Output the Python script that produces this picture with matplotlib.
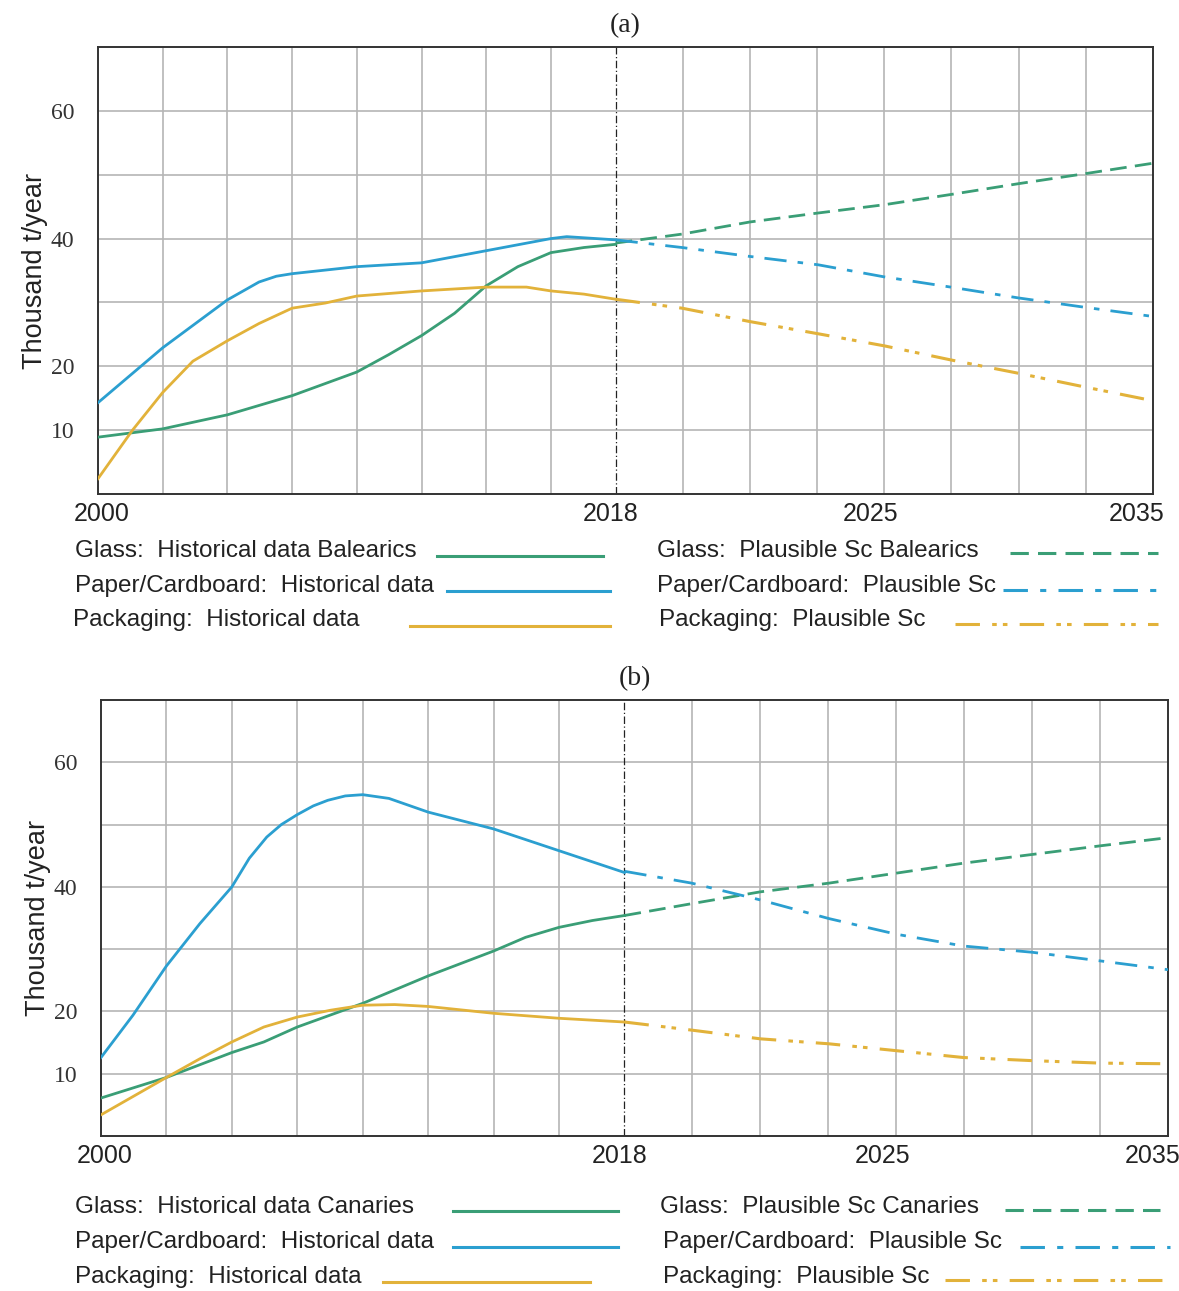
import numpy as np
import matplotlib.pyplot as plt
from matplotlib.lines import Line2D

# ---- data (thousand t/year) ----
# panel (a) Balearics
a_glass_hist_years = [2000, 2002.25, 2004.5, 2006.75, 2009, 2010.1, 2011.25, 2012.4, 2013.5, 2014.6, 2015.75, 2016.9, 2018]
a_glass_hist = [8.9, 10.2, 12.4, 15.4, 19.1, 21.8, 24.8, 28.3, 32.6, 35.6, 37.8, 38.6, 39.1]
a_paper_hist_years = [2000, 2002.25, 2004.5, 2005.6, 2006.2, 2006.75, 2009, 2011.25, 2013.5, 2015.75, 2016.3, 2018]
a_paper_hist = [14.3, 22.9, 30.4, 33.2, 34.1, 34.5, 35.6, 36.2, 38.1, 40.0, 40.3, 39.8]
a_pack_hist_years = [2000, 2001.2, 2002.25, 2003.3, 2004.5, 2005.6, 2006.75, 2007.9, 2009, 2011.25, 2013.5, 2014.9, 2015.75, 2016.9, 2018]
a_pack_hist = [2.4, 10.0, 15.9, 20.8, 24.0, 26.7, 29.1, 29.9, 31.0, 31.8, 32.4, 32.4, 31.8, 31.3, 30.5]

scen_years = [2018, 2020.1, 2022.25, 2024.4, 2026.5, 2028.6, 2030.75, 2032.9, 2035]
a_glass_scen = [39.3, 40.7, 42.6, 44.0, 45.3, 46.9, 48.6, 50.2, 51.8]
a_paper_scen = [39.8, 38.6, 37.2, 35.9, 34.0, 32.4, 30.7, 29.2, 27.8]
a_pack_scen = [30.5, 29.1, 27.0, 25.1, 23.2, 21.0, 18.9, 16.7, 14.6]

# panel (b) Canaries
b_glass_hist_years = [2000, 2002.25, 2004.5, 2005.6, 2006.75, 2009, 2011.25, 2013.5, 2014.6, 2015.75, 2016.9, 2018]
b_glass_hist = [6.1, 9.4, 13.4, 15.1, 17.5, 21.3, 25.7, 29.7, 31.9, 33.5, 34.6, 35.4]
b_paper_hist_years = [2000, 2001.1, 2002.25, 2003.4, 2004.5, 2005.1, 2005.7, 2006.2, 2006.75, 2007.3, 2007.8, 2008.4, 2009, 2009.9, 2011.25, 2013.5, 2015.75, 2018]
b_paper_hist = [12.6, 19.4, 27.3, 34.1, 40.0, 44.6, 48.0, 50.0, 51.6, 53.0, 53.9, 54.6, 54.8, 54.2, 52.0, 49.3, 45.8, 42.3]
b_pack_hist_years = [2000, 2002.25, 2003.4, 2004.5, 2005.6, 2006.75, 2007.9, 2009, 2010.1, 2011.25, 2013.5, 2015.75, 2018]
b_pack_hist = [3.4, 9.4, 12.4, 15.1, 17.5, 19.1, 20.2, 21.0, 21.1, 20.8, 19.7, 18.9, 18.3]

b_glass_scen = [35.4, 37.3, 39.2, 40.6, 42.2, 43.8, 45.2, 46.6, 47.9]
b_paper_scen = [42.5, 40.6, 37.9, 34.9, 32.4, 30.5, 29.5, 28.1, 26.7]
b_pack_scen = [18.3, 17.0, 15.6, 14.8, 13.7, 12.6, 12.1, 11.7, 11.6]

year_ticks = [2000, 2018, 2025, 2035]
y_ticks = [10, 20, 40, 60]

GREEN = "#3a9e76"
BLUE = "#2b9fd0"
GOLD = "#e2b23a"

SANS = ["Liberation Sans Narrow", "Liberation Sans", "DejaVu Sans"]
SERIF = ["Liberation Serif", "DejaVu Serif"]

# time axis is stretched differently before/after 2018 (8 grid cells each side)
MID = 7.85
def fwd(x):
    return np.interp(x, [1990, 2000, 2018, 2035, 2045], [-4.4, 0, MID, 16, 20.8])

def inv(x):
    return np.interp(x, [-4.4, 0, MID, 16, 20.8], [1990, 2000, 2018, 2035, 2045])

W, H = 1179, 1291
fig = plt.figure(figsize=(W / 100, H / 100), dpi=100)

def fx(px):
    return px / W

def fy(py):
    return 1 - py / H

dash_style = (0, (6, 3))
dashdot_style = (0, (8, 4, 2, 4))
dashdotdot_style = (0, (8, 4, 1.5, 2, 1.5, 4))

# where each year label sits relative to its year (pixels), as in the original
label_shift = {2000: ("center", 4), 2018: ("center", -5), 2025: ("center", 34), 2035: ("right", 12)}


def panel(box, title, hist, scen, legend_rows, legend_lines):
    left, top, right, bottom = box
    ax = fig.add_axes([fx(left), fy(bottom), fx(right - left), (bottom - top) / H])
    ax.set_xscale("function", functions=(fwd, inv))
    ax.set_xlim(2000, 2035)
    ax.set_ylim(0, 70)

    grid_pos = list(np.linspace(0, MID, 9)[1:-1]) + list(np.linspace(MID, 16, 9)[1:-1])
    for g in grid_pos:
        ax.axvline(inv(g), color="#b5b5b5", lw=1.2, zorder=0)
    for v in range(10, 70, 10):
        ax.axhline(v, color="#b5b5b5", lw=1.2, zorder=0)
    ax.axvline(2018, color="#222222", lw=0.9, ls=(0, (6, 2, 1, 2)), zorder=1)

    (gy, gv), (py_, pv), (ky, kv) = hist
    gs, ps, ks = scen
    ax.plot(gy, gv, color=GREEN, lw=2, zorder=3)
    ax.plot(py_, pv, color=BLUE, lw=2, zorder=3)
    ax.plot(ky, kv, color=GOLD, lw=2, zorder=3)
    ax.plot(scen_years, gs, color=GREEN, lw=2, ls=dash_style, zorder=3)
    ax.plot(scen_years, ps, color=BLUE, lw=2, ls=dashdot_style, zorder=3)
    ax.plot(scen_years, ks, color=GOLD, lw=2.2, ls=dashdotdot_style, zorder=3)

    ax.set_xticks(year_ticks)
    ax.set_xticklabels([])
    ax.xaxis.set_minor_locator(plt.NullLocator())
    ax.tick_params(axis="x", length=0)
    for y in year_ticks:
        ha, dx = label_shift[y]
        ax.annotate(str(y), xy=(y, 0), xycoords=("data", "axes fraction"),
                    xytext=(dx, -8), textcoords="offset pixels", ha=ha, va="top",
                    family=SANS, fontsize=18, color="#222222")
    ax.set_yticks(y_ticks)
    ax.set_yticklabels([str(v) for v in y_ticks], family=SERIF, fontsize=17, color="#333333")
    ax.tick_params(axis="y", length=0, pad=17)
    ax.set_ylabel("Thousand t/year", family=SANS, fontsize=19.5, color="#222222", labelpad=2)
    for s in ax.spines.values():
        s.set_color("#333333")
        s.set_linewidth(1.4)
    ax.set_title(title, family=SERIF, fontsize=20, pad=11, color="#222222")

    styles = ["-", "-", "-", dash_style, dashdot_style, dashdotdot_style]
    colors = [GREEN, BLUE, GOLD, GREEN, BLUE, GOLD]
    for (tx, ty, txt), (x1, x2, ly), st, c in zip(legend_rows, legend_lines, styles, colors):
        fig.text(fx(tx), fy(ty), txt, family=SANS, fontsize=17.5, color="#222222", va="center", ha="left")
        fig.add_artist(Line2D([fx(x1), fx(x2)], [fy(ly), fy(ly)], color=c, lw=2.2, ls=st))
    return ax


legend_a = [
    (75, 551, "Glass:  Historical data Balearics"),
    (75, 586, "Paper/Cardboard:  Historical data"),
    (73, 620, "Packaging:  Historical data"),
    (657, 551, "Glass:  Plausible Sc Balearics"),
    (657, 586, "Paper/Cardboard:  Plausible Sc"),
    (659, 620, "Packaging:  Plausible Sc"),
]
lines_a = [(437, 603, 556), (447, 610, 591), (410, 610, 626),
           (1010, 1158, 553), (1003, 1158, 590), (955, 1158, 624)]

legend_b = [
    (75, 1207, "Glass:  Historical data Canaries"),
    (75, 1242, "Paper/Cardboard:  Historical data"),
    (75, 1277, "Packaging:  Historical data"),
    (660, 1207, "Glass:  Plausible Sc Canaries"),
    (663, 1242, "Paper/Cardboard:  Plausible Sc"),
    (663, 1277, "Packaging:  Plausible Sc"),
]
lines_b = [(453, 618, 1211), (453, 618, 1247), (383, 590, 1282),
           (1005, 1160, 1210), (1020, 1170, 1247), (945, 1170, 1280)]

panel((98, 47, 1153, 494), "(a)",
      [(a_glass_hist_years, a_glass_hist), (a_paper_hist_years, a_paper_hist), (a_pack_hist_years, a_pack_hist)],
      [a_glass_scen, a_paper_scen, a_pack_scen], legend_a, lines_a)
panel((101, 700, 1168, 1136), "(b)",
      [(b_glass_hist_years, b_glass_hist), (b_paper_hist_years, b_paper_hist), (b_pack_hist_years, b_pack_hist)],
      [b_glass_scen, b_paper_scen, b_pack_scen], legend_b, lines_b)

fig.savefig("out.png", dpi=100, facecolor="white")
